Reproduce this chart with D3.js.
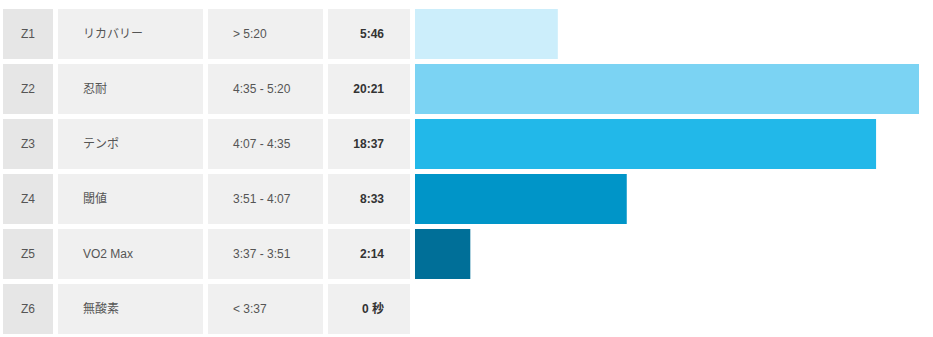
<!DOCTYPE html>
<html>
<head>
<meta charset="utf-8">
<script src="https://cdn.jsdelivr.net/npm/d3@7"></script>
<style>
  body { margin: 0; background: #fff; }
  svg { display: block; font-family: "Liberation Sans", Arial, "Noto Sans CJK JP", sans-serif; }
  .cell { fill: #f0f0f0; }
  .cell.zone { fill: #e6e6e6; }
  .lbl { font-size: 12px; fill: #555; }
  .time { font-size: 12px; font-weight: bold; fill: #333; }
</style>
</head>
<body>
<svg id="chart"></svg>
<script>
// pace zones
const zones = ["Z1", "Z2", "Z3", "Z4", "Z5", "Z6"];
const names = ["リカバリー", "忍耐", "テンポ", "閾値", "VO2 Max", "無酸素"];
const ranges = ["> 5:20", "4:35 - 5:20", "4:07 - 4:35", "3:51 - 4:07", "3:37 - 3:51", "< 3:37"];
const seconds = [346, 1221, 1117, 513, 134, 0];
const timeLabels = ["5:46", "20:21", "18:37", "8:33", "2:14", "0 秒"];
const colors = ["#cceefb", "#7bd3f3", "#22b8e9", "#0095c8", "#006f98", "#004f6e"];

const width = 933, height = 337;

// table columns: [x0, x1]
const cols = [[3, 53], [58, 203], [208, 323], [328, 410]];

const svg = d3.select('#chart')
    .attr('width', width)
    .attr('height', height);

const y = d3.scaleBand()
    .domain(zones)
    .range([9, 334])
    .paddingInner(5 / 55)
    .paddingOuter(0);

const x = d3.scaleLinear()
    .domain([0, d3.max(seconds)])
    .range([415, 919]);

const data = zones.map((z, i) => ({
  zone: z, name: names[i], range: ranges[i], sec: seconds[i], label: timeLabels[i], color: colors[i]
}));

const row = svg.selectAll('.row')
  .data(data)
  .enter().append('g')
    .attr('class', 'row')
    .attr('transform', d => `translate(0, ${y(d.zone)})`);

const bh = y.bandwidth();

cols.forEach((c, ci) => {
  row.append('rect')
    .attr('class', ci === 0 ? 'cell zone' : 'cell')
    .attr('x', c[0])
    .attr('width', c[1] - c[0])
    .attr('height', bh);
});

row.append('text')
  .attr('class', 'lbl')
  .attr('x', (cols[0][0] + cols[0][1]) / 2)
  .attr('y', bh / 2)
  .attr('dy', '0.35em')
  .style('text-anchor', 'middle')
  .text(d => d.zone);

row.append('text')
  .attr('class', 'lbl')
  .attr('x', 83)
  .attr('y', bh / 2)
  .attr('dy', '0.35em')
  .text(d => d.name);

row.append('text')
  .attr('class', 'lbl')
  .attr('x', 233)
  .attr('y', bh / 2)
  .attr('dy', '0.35em')
  .text(d => d.range);

row.append('text')
  .attr('class', 'time')
  .attr('x', 384)
  .attr('y', bh / 2)
  .attr('dy', '0.35em')
  .style('text-anchor', 'end')
  .text(d => d.label);

// bars
row.append('rect')
  .attr('class', 'bar')
  .attr('x', x(0))
  .attr('width', d => x(d.sec) - x(0))
  .attr('height', bh)
  .style('fill', d => d.color);
</script>
</body>
</html>
